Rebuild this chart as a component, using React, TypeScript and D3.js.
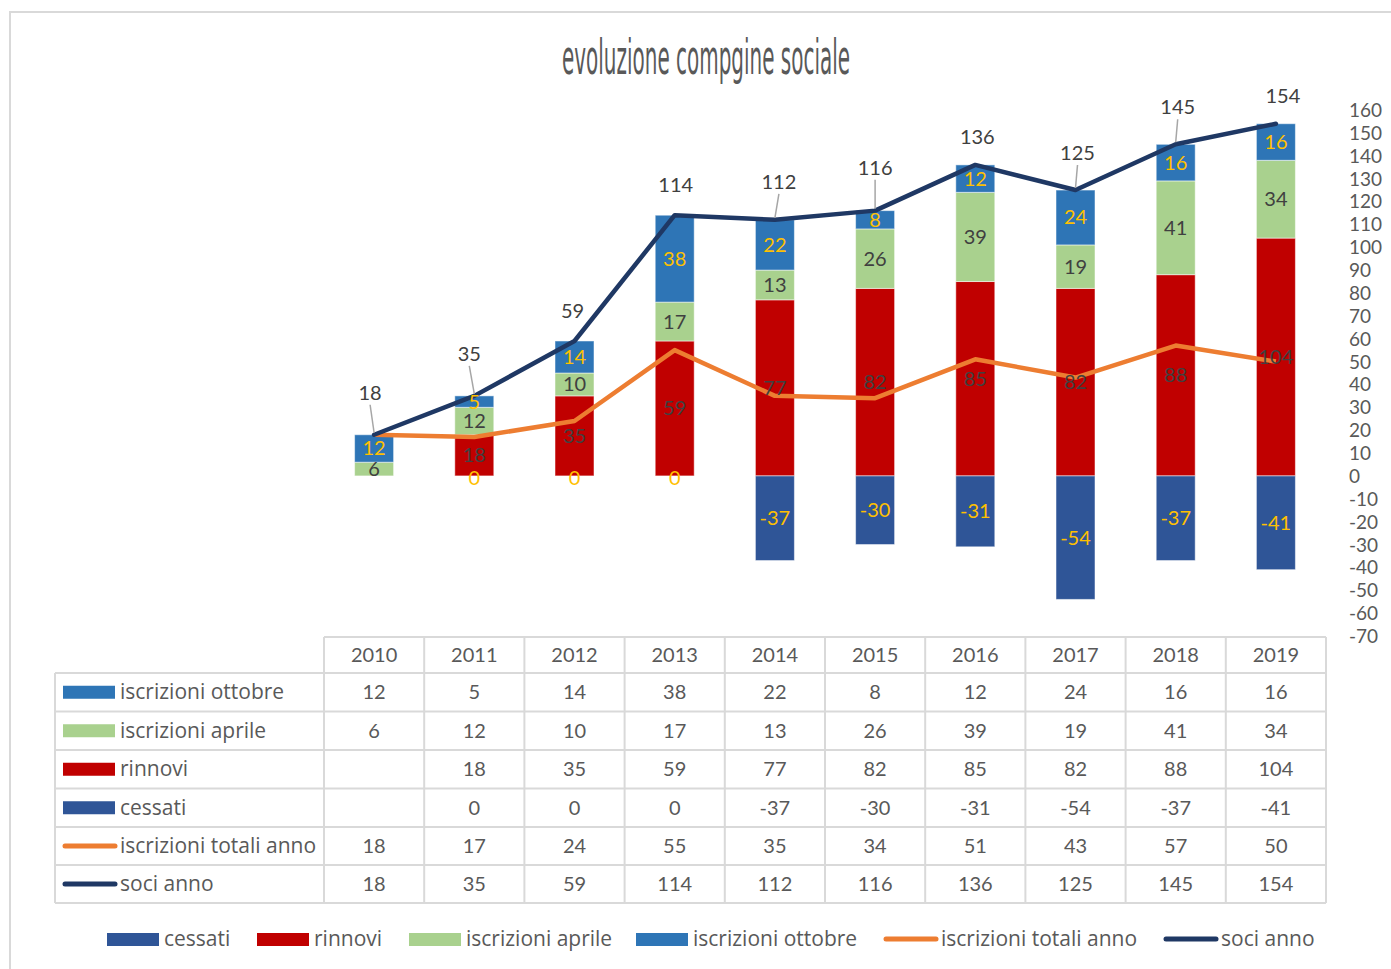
import * as d3 from 'd3'

const years = ['2010', '2011', '2012', '2013', '2014', '2015', '2016', '2017', '2018', '2019']
const iscrizioniOttobre = [12, 5, 14, 38, 22, 8, 12, 24, 16, 16]
const iscrizioniAprile = [6, 12, 10, 17, 13, 26, 39, 19, 41, 34]
const rinnovi: (number | null)[] = [null, 18, 35, 59, 77, 82, 85, 82, 88, 104]
const cessati: (number | null)[] = [null, 0, 0, 0, -37, -30, -31, -54, -37, -41]
const iscrizioniTotali = [18, 17, 24, 55, 35, 34, 51, 43, 57, 50]
const sociAnno = [18, 35, 59, 114, 112, 116, 136, 125, 145, 154]
const yTicks = d3.range(-70, 161, 10)

// label placement for "soci anno" (pixels above the point)
const sociLift = [42, 42, 30, 30, 38, 43, 28, 37, 37, 28]
const sociShift = [-2, -3, 0, 3, 6, 2, 4, 4, 4, 9]

const C = {
  ottobre: '#2E75B6',
  aprile: '#A9D18E',
  rinnovi: '#C00000',
  cessati: '#2F5597',
  totali: '#ED7D31',
  soci: '#1F3864',
  text: '#595959',
  dark: '#404040',
  gold: '#FFC000',
  grid: '#D9D9D9',
}

const NUM_FONT = 'Lato, sans-serif'
const NAME_FONT = '"Open Sans", Lato, sans-serif'
const FS = 20
const NAME_FS = 21
const W = 1391
const H = 969

const App = () => {
  const x = d3.scaleBand<string>().domain(years).range([324, 1326])
  const y = d3.scaleLinear().domain([-70, 160]).range([636, 110])
  const bw = 39
  const cx = (i: number) => (x(years[i]) || 0) + x.bandwidth() / 2

  type Seg = { i: number; y0: number; y1: number; v: number; color: string; label: string }
  const segs: Seg[] = []
  years.forEach((_, i) => {
    let base = 0
    const r = rinnovi[i]
    if (r !== null) {
      segs.push({ i, y0: 0, y1: r, v: r, color: C.rinnovi, label: C.dark })
      base = r
    }
    segs.push({ i, y0: base, y1: base + iscrizioniAprile[i], v: iscrizioniAprile[i], color: C.aprile, label: C.dark })
    base += iscrizioniAprile[i]
    segs.push({ i, y0: base, y1: base + iscrizioniOttobre[i], v: iscrizioniOttobre[i], color: C.ottobre, label: C.gold })
    const c = cessati[i]
    if (c !== null) segs.push({ i, y0: 0, y1: c, v: c, color: C.cessati, label: C.gold })
  })

  const line = d3.line<number>().x((_, i) => cx(i)).y((d) => y(d))

  const rowTops = [673, 711.5, 750, 788.5, 827, 865, 903]
  const tableRows: { name: string; values: (number | null)[]; color: string; kind: 'rect' | 'line' }[] = [
    { name: 'iscrizioni ottobre', values: iscrizioniOttobre, color: C.ottobre, kind: 'rect' },
    { name: 'iscrizioni aprile', values: iscrizioniAprile, color: C.aprile, kind: 'rect' },
    { name: 'rinnovi', values: rinnovi, color: C.rinnovi, kind: 'rect' },
    { name: 'cessati', values: cessati, color: C.cessati, kind: 'rect' },
    { name: 'iscrizioni totali anno', values: iscrizioniTotali, color: C.totali, kind: 'line' },
    { name: 'soci anno', values: sociAnno, color: C.soci, kind: 'line' },
  ]

  const legend = [
    { name: 'cessati', color: C.cessati, kind: 'rect', x: 107 },
    { name: 'rinnovi', color: C.rinnovi, kind: 'rect', x: 257 },
    { name: 'iscrizioni aprile', color: C.aprile, kind: 'rect', x: 409 },
    { name: 'iscrizioni ottobre', color: C.ottobre, kind: 'rect', x: 636 },
    { name: 'iscrizioni totali anno', color: C.totali, kind: 'line', x: 884 },
    { name: 'soci anno', color: C.soci, kind: 'line', x: 1164 },
  ]

  return (
    <div style={{ position: 'absolute', left: 0, top: 0 }}>
      <svg width={W} height={H} style={{ display: 'block', background: '#fff' }} fontFamily={NUM_FONT}>
        {/* chart frame */}
        <rect x={10} y={12} width={W + 20} height={H + 20} fill="#fff" stroke={C.grid} strokeWidth={2} />

        <text
          x={706}
          y={74}
          textAnchor="middle"
          fontFamily='"DejaVu Sans Condensed", "Liberation Sans Narrow", sans-serif'
          fontSize={48}
          fill={C.text}
          textLength={288}
          lengthAdjust="spacingAndGlyphs"
        >
          evoluzione compgine sociale
        </text>

        {/* right axis labels */}
        {yTicks.map((t) => (
          <text key={t} x={1349} y={y(t) + 7} fontSize={19} fill={C.text}>
            {t}
          </text>
        ))}

        {/* bars */}
        {segs.map((s, k) => (
          <rect
            key={k}
            x={cx(s.i) - bw / 2}
            y={y(Math.max(s.y0, s.y1))}
            width={bw}
            height={Math.abs(y(s.y0) - y(s.y1))}
            fill={s.color}
            stroke="#fff"
            strokeOpacity={0.5}
            strokeWidth={1}
          />
        ))}

        {/* lines */}
        <path d={line(iscrizioniTotali) || ''} fill="none" stroke={C.totali} strokeWidth={4.5} strokeLinejoin="round" />
        <path d={line(sociAnno) || ''} fill="none" stroke={C.soci} strokeWidth={4.5} strokeLinejoin="round" strokeLinecap="round" />

        {/* bar labels */}
        {segs.map((s, k) => (
          <text
            key={k}
            x={cx(s.i)}
            y={s.v === 0 ? y(0) + 9 : y((s.y0 + s.y1) / 2) + 7}
            textAnchor="middle"
            fontSize={FS}
            fill={s.label}
          >
            {s.v}
          </text>
        ))}

        {/* soci anno labels */}
        {sociAnno.map((v, i) => {
          const px = cx(i)
          const py = y(v)
          const lx = px + sociShift[i] - 2
          const ly = py - sociLift[i]
          return (
            <g key={i}>
              {sociLift[i] > 33 && (
                <line x1={lx} y1={ly + 12} x2={px} y2={py - 2} stroke="#A6A6A6" strokeWidth={1.5} />
              )}
              <text x={lx} y={ly + 7} textAnchor="middle" fontSize={FS} fill={C.dark}>
                {v}
              </text>
            </g>
          )
        })}

        {/* data table */}
        <g stroke={C.grid} strokeWidth={2} fill="none">
          <line x1={324} y1={637} x2={1326} y2={637} />
          {rowTops.map((ry, k) => (
            <line key={k} x1={55} y1={ry} x2={1326} y2={ry} />
          ))}
          <line x1={55} y1={673} x2={55} y2={903} />
          {years.map((yr) => (
            <line key={yr} x1={x(yr)} y1={637} x2={x(yr)} y2={903} />
          ))}
          <line x1={1326} y1={637} x2={1326} y2={903} />
        </g>
        {years.map((yr, i) => (
          <text key={yr} x={cx(i)} y={(637 + 673) / 2 + 7} textAnchor="middle" fontSize={FS} fill={C.text}>
            {yr}
          </text>
        ))}
        {tableRows.map((r, k) => {
          const mid = (rowTops[k] + rowTops[k + 1]) / 2
          return (
            <g key={r.name}>
              {r.kind === 'rect' ? (
                <rect x={63} y={mid - 6.5} width={52} height={13} fill={r.color} />
              ) : (
                <line x1={65} y1={mid} x2={115} y2={mid} stroke={r.color} strokeWidth={5} strokeLinecap="round" />
              )}
              <text x={120} y={mid + 7} fontSize={NAME_FS} fontFamily={NAME_FONT} fill={C.text}>
                {r.name}
              </text>
              {r.values.map((v, i) =>
                v === null ? null : (
                  <text key={i} x={cx(i)} y={mid + 7} textAnchor="middle" fontSize={FS} fill={C.text}>
                    {v}
                  </text>
                )
              )}
            </g>
          )
        })}

        {/* legend */}
        {legend.map((l) => (
          <g key={l.name}>
            {l.kind === 'rect' ? (
              <rect x={l.x} y={933} width={52} height={13} fill={l.color} />
            ) : (
              <line x1={l.x + 2} y1={939} x2={l.x + 52} y2={939} stroke={l.color} strokeWidth={5} strokeLinecap="round" />
            )}
            <text x={l.x + 57} y={946} fontSize={NAME_FS} fontFamily={NAME_FONT} fill={C.text}>
              {l.name}
            </text>
          </g>
        ))}
      </svg>
    </div>
  )
}

export default App
